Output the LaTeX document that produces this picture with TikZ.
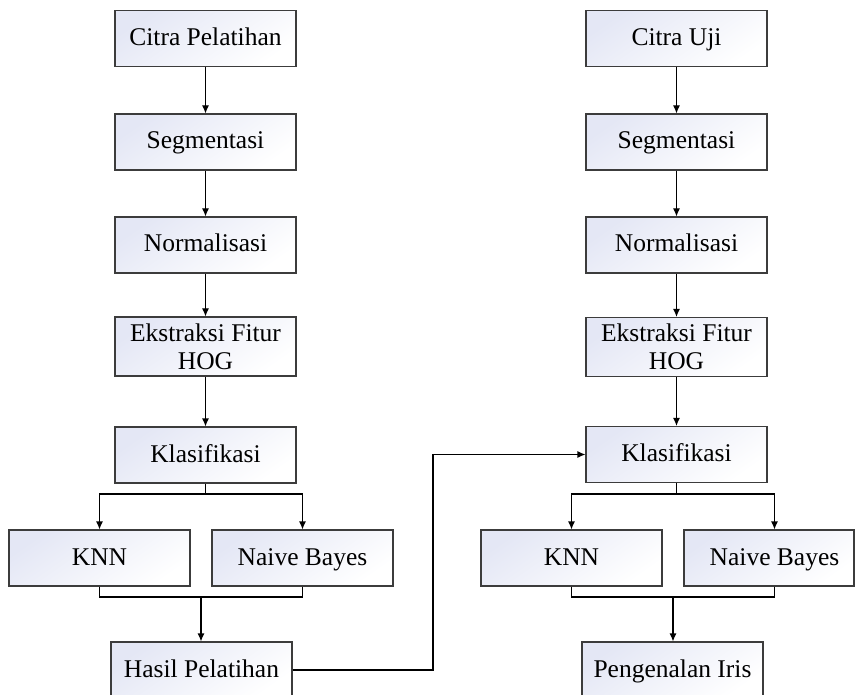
\documentclass[tikz,border=0pt]{standalone}
\usepackage{fontspec}
\setmainfont{Liberation Serif}
\usetikzlibrary{arrows.meta,calc}
\definecolor{lav}{HTML}{E4E7F5}
\definecolor{edge}{HTML}{3C3C3C}
\begin{document}
\begin{tikzpicture}[x=1pt,y=-1pt,
  basebox/.style={draw=edge, line width=1.1pt, minimum width=181pt, minimum height=56pt,
    inner sep=0pt, top color=lav, bottom color=white, shading angle=35,
    font=\fontsize{25.5}{28}\selectfont, align=center},
  box/.style={basebox, text height=18pt, text depth=4pt},
  twobox/.style={basebox, minimum height=59pt},
  conn/.style={draw=black, line width=1.1pt},
  arr/.style={conn, -{Latex[length=8pt,width=7pt]}}]
\useasboundingbox (0,0) rectangle (855,695);
% left column
\node[box] (cp) at (205.5,38.5) {Citra Pelatihan};
\node[box] (seg1) at (205.5,142) {Segmentasi};
\node[box] (nor1) at (205.5,245) {Normalisasi};
\node[twobox] (eks1) at (205.5,346.5) {Ekstraksi Fitur\\HOG};
\node[box] (kla1) at (205.5,455) {Klasifikasi};
\node[box] (knn1) at (99.5,558) {KNN};
\node[box] (nb1) at (302.5,558) {Naive Bayes};
\node[box] (has) at (201.5,670) {Hasil Pelatihan};
% right column
\node[box] (cu) at (676.5,38.5) {Citra Uji};
\node[box] (seg2) at (676.5,142) {Segmentasi};
\node[box] (nor2) at (676.5,245) {Normalisasi};
\node[twobox] (eks2) at (676.5,347) {Ekstraksi Fitur\\HOG};
\node[box] (kla2) at (676.5,454.5) {Klasifikasi};
\node[box] (knn2) at (571.5,558) {KNN};
\node[box, minimum width=170pt] (nb2) at (769,558) {\hspace*{11pt}Naive Bayes};
\node[box] (pen) at (672.5,670) {Pengenalan Iris};
% coordinates
\coordinate (b1) at (205.5,494);
\coordinate (m1) at (201,597);
\coordinate (b2) at (676.5,494);
\coordinate (m2) at (673,597);
\coordinate (c1) at (433,670);
% connectors left
\draw[arr] (cp) -- (seg1);
\draw[arr] (seg1) -- (nor1);
\draw[arr] (nor1) -- (eks1);
\draw[arr] (eks1) -- (kla1);
\draw[conn] (kla1) -- (b1);
\draw[arr] (b1) -| (knn1);
\draw[arr] (b1) -| (nb1);
\draw[conn] (knn1) |- (m1);
\draw[conn] (nb1) |- (m1);
\draw[arr] (m1) -- (m1 |- has.north);
\draw[arr] (has.east) -- (c1) |- (kla2.west);
% connectors right
\draw[arr] (cu) -- (seg2);
\draw[arr] (seg2) -- (nor2);
\draw[arr] (nor2) -- (eks2);
\draw[arr] (eks2) -- (kla2);
\draw[conn] (kla2) -- (b2);
\draw[arr] (b2) -| (knn2);
\draw[arr] (b2) -| ([xshift=5.5pt]nb2.north);
\draw[conn] (knn2) |- (m2);
\draw[conn] ([xshift=5.5pt]nb2.south) |- (m2);
\draw[arr] (m2) -- (m2 |- pen.north);
\end{tikzpicture}
\end{document}
